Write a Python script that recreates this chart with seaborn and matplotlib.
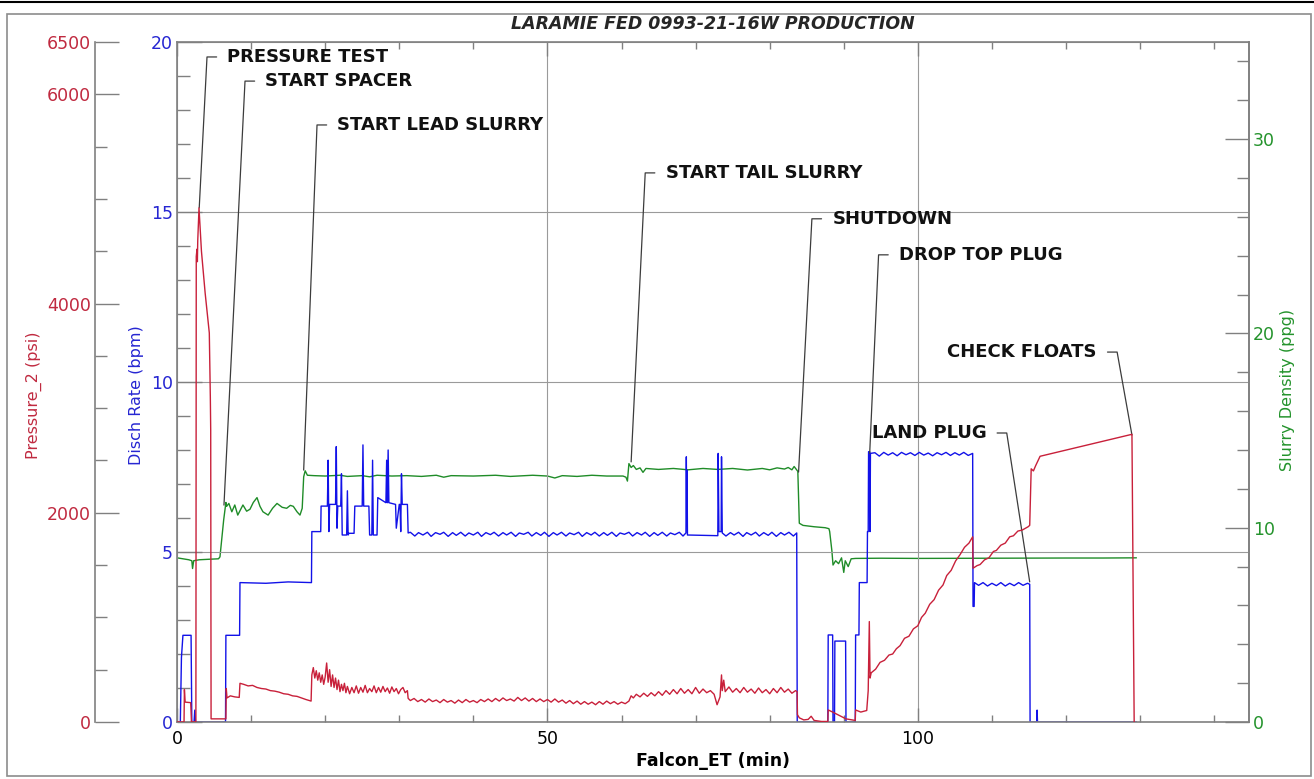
import numpy as np
import pandas as pd
import matplotlib
matplotlib.use("Agg")
import matplotlib.pyplot as plt
import seaborn as sns
from matplotlib.ticker import MultipleLocator, FixedLocator
from matplotlib.lines import Line2D
from matplotlib.patches import Rectangle

sns.set_style("white")
plt.rcParams['font.family'] = ['DejaVu Sans']

# ---------------- data ----------------
title = "LARAMIE FED 0993-21-16W PRODUCTION"

# Disch Rate (bpm) vs Falcon_ET (min)
rate_pts = [
    (0.0, 0), (0.45, 0), (0.6, 1.9), (0.8, 2.55), (1.9, 2.55), (2.0, 0), (2.3, 0), (2.4, 0.35), (2.5, 0),
    (6.55, 0), (6.6, 2.55), (8.45, 2.55), (8.5, 4.1), (12.0, 4.08), (15.0, 4.12), (18.15, 4.1),
    (18.2, 5.6), (19.4, 5.6), (19.45, 6.35), (20.3, 6.35), (20.4, 7.7), (20.5, 5.6), (20.6, 6.4),
    (21.4, 6.4), (21.5, 8.1), (21.6, 5.7), (21.7, 6.35), (22.1, 6.35), (22.2, 7.3), (22.3, 5.5),
    (22.9, 5.5), (23.0, 6.8), (23.1, 5.5), (23.2, 5.55), (23.9, 5.55), (24.0, 6.35), (25.0, 6.35),
    (25.1, 8.15), (25.2, 6.35), (25.9, 6.35), (26.0, 5.5), (26.3, 5.5), (26.4, 7.7), (26.5, 5.5),
    (27.0, 5.5), (27.1, 6.6), (28.2, 6.45), (28.3, 7.7), (28.4, 6.45), (28.5, 8.0), (28.6, 6.45),
    (29.5, 6.4), (29.6, 5.7), (30.0, 6.4), (30.1, 6.4), (30.2, 5.6), (30.3, 7.3), (30.4, 6.4),
    (31.1, 6.4), (31.2, 5.56),
    (31.5, 5.58), (32.1, 5.47), (32.6, 5.57), (33.2, 5.5), (33.8, 5.58), (34.3, 5.46), (34.9, 5.57),
    (35.5, 5.52), (36.0, 5.58), (36.6, 5.46), (37.2, 5.57), (37.7, 5.49), (38.3, 5.58), (38.9, 5.47),
    (39.4, 5.56), (40.0, 5.5), (40.6, 5.58), (41.1, 5.46), (41.7, 5.57), (42.3, 5.51), (42.8, 5.58),
    (43.4, 5.47), (44.0, 5.57), (44.5, 5.5), (45.1, 5.58), (45.7, 5.46), (46.2, 5.56), (46.8, 5.52),
    (47.4, 5.58), (47.9, 5.47), (48.5, 5.57), (49.1, 5.49), (49.6, 5.58), (50.2, 5.46), (50.8, 5.57),
    (51.3, 5.5), (51.9, 5.58), (52.5, 5.47), (53.0, 5.56), (53.6, 5.51), (54.2, 5.58), (54.7, 5.46),
    (55.3, 5.57), (55.9, 5.5), (56.4, 5.58), (57.0, 5.47), (57.6, 5.57), (58.1, 5.49), (58.7, 5.58),
    (59.3, 5.46), (59.8, 5.56), (60.4, 5.52), (61.0, 5.58), (61.5, 5.47), (62.1, 5.57), (62.7, 5.5),
    (63.2, 5.58), (63.8, 5.46), (64.4, 5.57), (64.9, 5.49), (65.5, 5.58), (66.1, 5.47), (66.6, 5.56),
    (67.2, 5.51), (67.8, 5.58), (68.3, 5.47), (68.7, 5.56),
    (68.75, 7.8), (68.8, 5.9), (68.85, 7.4), (68.9, 5.5), (73.0, 5.48), (73.05, 7.9), (73.15, 5.6),
    (73.45, 5.6), (73.5, 7.8), (73.6, 5.56),
    (74.1, 5.47), (74.7, 5.57), (75.2, 5.5), (75.8, 5.58), (76.4, 5.46), (76.9, 5.57), (77.5, 5.5),
    (78.1, 5.58), (78.6, 5.47), (79.2, 5.57), (79.8, 5.49), (80.3, 5.58), (80.9, 5.46), (81.5, 5.57),
    (82.0, 5.5), (82.6, 5.58), (83.2, 5.47), (83.65, 5.56), (83.72, 0.0),
    (87.85, 0), (87.9, 2.56), (88.5, 2.56), (88.55, 0), (88.75, 0), (88.8, 2.38), (90.25, 2.38),
    (90.3, 0), (91.55, 0), (91.6, 2.56), (92.05, 2.56), (92.1, 4.1), (93.15, 4.1), (93.2, 5.6),
    (93.3, 5.6), (93.35, 7.95), (93.5, 7.95), (93.55, 5.6), (93.6, 7.9),
    (94.2, 7.92), (94.8, 7.82), (95.4, 7.93), (96.0, 7.85), (96.6, 7.92), (97.2, 7.83), (97.8, 7.93),
    (98.4, 7.86), (99.0, 7.92), (99.6, 7.84), (100.2, 7.93), (100.8, 7.85), (101.4, 7.91),
    (102.0, 7.83), (102.6, 7.92), (103.2, 7.86), (103.8, 7.93), (104.4, 7.84), (105.0, 7.92),
    (105.6, 7.85), (106.2, 7.93), (106.8, 7.84), (107.4, 7.9),
    (107.45, 3.4), (107.6, 3.4), (107.65, 4.1), (108.2, 4.02), (108.8, 4.1), (109.4, 4.0),
    (110.0, 4.08), (110.6, 4.01), (111.2, 4.1), (111.8, 4.0), (112.4, 4.08), (113.0, 4.01),
    (113.6, 4.1), (114.2, 4.02), (114.8, 4.08), (115.1, 4.05), (115.15, 0), (116.05, 0),
    (116.1, 0.35), (116.15, 0), (129.5, 0),
]

# Pressure_2 (psi) vs Falcon_ET (min)
pres_pts = [
    (0.0, 0), (0.95, 0), (1.0, 310), (1.1, 190), (1.85, 185), (1.95, 0), (2.55, 0),
    (2.6, 4450), (2.7, 4520), (2.75, 4400), (2.8, 4600), (2.97, 4914), (3.3, 4500), (3.8, 4100),
    (4.36, 3719), (4.5, 3100), (4.55, 2790), (4.6, 30), (6.6, 30), (6.65, 320), (6.75, 230),
    (7.2, 250), (7.8, 240), (8.4, 235), (8.5, 370), (9.0, 360), (9.6, 345), (10.2, 350),
    (10.8, 330), (11.4, 320), (12.0, 315), (12.6, 300), (13.2, 295), (13.8, 285), (14.4, 270),
    (15.0, 265), (15.6, 250), (16.2, 245), (16.8, 230), (17.4, 215), (18.1, 200),
    (18.2, 450), (18.4, 520), (18.6, 420), (18.8, 490), (19.0, 400), (19.2, 470), (19.4, 380),
    (19.6, 450), (19.8, 360), (20.0, 430), (20.2, 564), (20.4, 380), (20.6, 500), (20.8, 340),
    (21.0, 450), (21.2, 330), (21.4, 420), (21.6, 310), (21.8, 400), (22.0, 290), (22.2, 360),
    (22.4, 300), (22.6, 370), (22.8, 280), (23.0, 340), (23.3, 270), (23.6, 330), (23.9, 280),
    (24.2, 345), (24.5, 275), (24.8, 330), (25.1, 285), (25.4, 350), (25.7, 280), (26.0, 320),
    (26.3, 290), (26.6, 345), (26.9, 280), (27.2, 330), (27.5, 285), (27.8, 340), (28.1, 290),
    (28.4, 325), (28.7, 275), (29.0, 335), (29.3, 290), (29.6, 320), (29.9, 270), (30.2, 310),
    (30.5, 330), (30.8, 280), (31.1, 300), (31.2, 226),
    (31.5, 205), (32.0, 225), (32.5, 195), (33.0, 215), (33.5, 190), (34.0, 220), (34.5, 195),
    (35.0, 210), (35.5, 185), (36.0, 215), (36.5, 190), (37.0, 205), (37.5, 180), (38.0, 210),
    (38.5, 185), (39.0, 215), (39.5, 190), (40.0, 205), (40.5, 185), (41.0, 215), (41.5, 195),
    (42.0, 220), (42.5, 195), (43.0, 225), (43.5, 200), (44.0, 230), (44.5, 205), (45.0, 220),
    (45.5, 200), (46.0, 235), (46.5, 205), (47.0, 230), (47.5, 200), (48.0, 225), (48.5, 195),
    (49.0, 220), (49.5, 195), (50.0, 215), (50.5, 190), (51.0, 220), (51.5, 190), (52.0, 210),
    (52.5, 180), (53.0, 205), (53.5, 175), (54.0, 200), (54.5, 170), (55.0, 195), (55.5, 170),
    (56.0, 190), (56.5, 165), (57.0, 195), (57.5, 170), (58.0, 200), (58.5, 175), (59.0, 195),
    (59.5, 170), (60.0, 190), (60.5, 175), (61.0, 200), (61.3, 250), (61.6, 230), (62.0, 265),
    (62.5, 240), (63.0, 275), (63.5, 245), (64.0, 280), (64.5, 250), (65.0, 290), (65.5, 255),
    (66.0, 300), (66.5, 265), (67.0, 310), (67.5, 270), (68.0, 320), (68.5, 275), (69.0, 310),
    (69.5, 270), (70.0, 330), (70.5, 275), (71.0, 315), (71.5, 280), (72.0, 300), (72.5, 265),
    (72.9, 165), (73.3, 240), (73.5, 450), (73.6, 300), (73.8, 400), (74.0, 290), (74.5, 335),
    (75.0, 285), (75.5, 320), (76.0, 280), (76.5, 330), (77.0, 285), (77.5, 315), (78.0, 275),
    (78.5, 325), (79.0, 280), (79.5, 310), (80.0, 270), (80.5, 320), (81.0, 280), (81.5, 330),
    (82.0, 285), (82.5, 315), (83.0, 275), (83.5, 300), (83.7, 290), (83.75, 70),
    (84.0, 40), (84.6, 20), (85.2, 25), (85.6, 55), (86.0, 15), (87.0, 5), (87.85, 5),
    (87.9, 115), (88.5, 95), (89.2, 70), (90.3, 30), (91.55, 15), (91.6, 115), (92.3, 95),
    (93.1, 110), (93.3, 300), (93.45, 960), (93.55, 420), (93.7, 470), (94.3, 505), (94.9, 570),
    (95.5, 590), (96.1, 640), (96.6, 650), (97.1, 700), (97.6, 730), (98.2, 800), (98.8, 820),
    (99.4, 890), (100.0, 920), (100.5, 1000), (101.0, 1040), (101.6, 1125), (102.2, 1170),
    (102.8, 1260), (103.4, 1310), (103.9, 1400), (104.5, 1450), (105.1, 1540), (105.7, 1600),
    (106.3, 1670), (106.9, 1710), (107.4, 1770), (107.45, 1470), (108.0, 1495), (108.4, 1505),
    (109.0, 1550), (109.6, 1570), (110.2, 1630), (110.6, 1640), (111.2, 1690), (111.8, 1710),
    (112.4, 1770), (112.9, 1780), (113.5, 1825), (114.1, 1835), (114.9, 1867), (115.1, 1880),
    (115.3, 2420), (115.6, 2400), (115.9, 2450), (116.3, 2510), (116.5, 2540), (128.9, 2750),
    (129.2, 0),
]

# Slurry Density (ppg) vs Falcon_ET (min)
dens_pts = [
    (0.0, 8.45), (0.8, 8.4), (1.6, 8.35), (2.0, 8.3), (2.1, 7.9), (2.25, 8.3), (3.0, 8.35),
    (4.5, 8.38), (5.6, 8.4), (5.8, 8.5), (6.3, 10.4), (6.6, 11.3), (6.7, 11.1), (7.0, 11.25),
    (7.4, 10.82), (7.8, 11.17), (8.2, 10.65), (8.9, 11.17), (9.4, 10.85), (9.85, 10.95),
    (10.3, 11.3), (10.8, 11.55), (11.2, 11.1), (11.6, 10.82), (12.3, 10.65), (12.9, 11.0),
    (13.5, 11.25), (14.2, 11.05), (14.8, 11.0), (15.3, 11.15), (15.7, 11.1), (16.2, 10.82),
    (16.6, 10.65), (16.9, 11.0), (17.1, 12.62), (17.3, 12.93), (17.6, 12.7), (18.5, 12.68),
    (20.0, 12.66), (22.0, 12.7), (23.0, 12.64), (25.0, 12.68), (26.0, 12.62), (27.0, 12.7),
    (29.0, 12.66), (31.0, 12.68), (33.0, 12.64), (35.0, 12.7), (36.0, 12.6), (37.0, 12.68),
    (40.0, 12.66), (43.0, 12.7), (45.0, 12.64), (48.0, 12.7), (50.0, 12.66), (51.0, 12.56),
    (52.0, 12.68), (54.0, 12.64), (56.0, 12.7), (58.0, 12.66), (60.2, 12.66), (60.6, 12.6),
    (60.8, 12.4), (61.0, 13.3), (61.3, 13.1), (61.6, 13.2), (62.0, 13.0), (62.5, 13.08),
    (62.9, 12.85), (63.3, 13.05), (65.0, 13.0), (67.0, 13.05), (69.0, 12.98), (71.0, 13.05),
    (73.0, 13.0), (75.0, 13.05), (77.0, 12.97), (79.0, 13.05), (80.0, 12.98), (81.0, 13.08),
    (82.0, 13.02), (82.5, 13.1), (83.0, 12.98), (83.3, 13.15), (83.6, 13.0), (83.8, 12.9),
    (84.0, 10.23), (84.5, 10.12), (86.0, 10.05), (87.5, 10.0), (88.0, 9.95), (88.1, 9.8),
    (88.4, 8.8), (88.55, 8.08), (88.9, 8.3), (89.3, 8.15), (89.7, 8.45), (90.0, 7.7),
    (90.2, 8.3), (90.6, 8.0), (91.0, 8.4), (91.6, 8.42), (95.0, 8.43), (100.0, 8.42),
    (110.0, 8.43), (120.0, 8.44), (125.0, 8.44), (129.5, 8.45),
]

# events: label, time (min), level on the rate scale where the leader ends
event_labels = ["PRESSURE TEST", "START SPACER", "START LEAD SLURRY", "START TAIL SLURRY",
                "SHUTDOWN", "DROP TOP PLUG", "LAND PLUG", "CHECK FLOATS"]
event_t = [3.0, 6.34, 17.1, 61.3, 83.9, 93.5, 115.1, 128.9]
event_y = [15.12, 6.38, 7.41, 7.65, 7.35, 7.9, 4.12, 8.44]

# ---------------- layout / styles ----------------
RED, BLUE, GREEN = '#c8203a', '#1212e8', '#1f8c28'
RED_T, BLUE_T, GREEN_T = '#c02a40', '#2626d2', '#24932c'
SPINE = '#808080'
# label anchor (time, rate-level), side of text
label_layout = [(4.05, 19.56, 'r'), (9.18, 18.85, 'r'), (18.9, 17.56, 'r'), (63.2, 16.15, 'r'),
                (85.7, 14.8, 'r'), (94.7, 13.74, 'r'), (112.0, 8.5, 'l'), (126.9, 10.88, 'l')]
SEG = 1.3   # horizontal leader length (min)
GAP = 1.45  # gap to text (min)

W, H = 1314, 779
fig = plt.figure(figsize=(W / 100, H / 100), dpi=100)
fig.subplots_adjust(left=177 / W, right=1249 / W, bottom=57 / H, top=737 / H)
ax = fig.add_subplot(111)
ax_d = ax.twinx()
ax_p = ax.twinx()
ax_d.set_zorder(1)
ax.set_zorder(2)
ax_p.set_zorder(3)
ax.patch.set_visible(False)
ax_d.patch.set_visible(False)
ax_p.patch.set_visible(False)

rate_df = pd.DataFrame(rate_pts, columns=['t', 'v'])
pres_df = pd.DataFrame(pres_pts, columns=['t', 'v'])
dens_df = pd.DataFrame(dens_pts, columns=['t', 'v'])

sns.lineplot(data=dens_df, x='t', y='v', ax=ax_d, color=GREEN, lw=1.0, sort=False, estimator=None, legend=False)
sns.lineplot(data=rate_df, x='t', y='v', ax=ax, color=BLUE, lw=1.0, sort=False, estimator=None, legend=False)
sns.lineplot(data=pres_df, x='t', y='v', ax=ax_p, color=RED, lw=1.0, sort=False, estimator=None, legend=False)

ax.set_xlim(0, 144.7)
ax.set_ylim(0, 20)
ax_p.set_ylim(0, 6500)
ax_d.set_ylim(0, 35)

# x axis
ax.xaxis.set_major_locator(FixedLocator([0, 50, 100]))
ax.xaxis.set_minor_locator(MultipleLocator(10))
ax.tick_params(axis='x', which='both', direction='in', top=True, bottom=True, color=SPINE,
               labelsize=12.5, pad=6, labelcolor='black', width=1)
ax.tick_params(axis='x', which='major', length=10)
ax.tick_params(axis='x', which='minor', length=5)

# rate axis
ax.yaxis.set_major_locator(MultipleLocator(5))
ax.yaxis.set_minor_locator(MultipleLocator(1))
ax.tick_params(axis='y', which='both', direction='in', left=True, right=False, color=SPINE,
               labelsize=12.5, pad=3, labelcolor=BLUE_T, width=1)
ax.tick_params(axis='y', which='major', length=18)
ax.tick_params(axis='y', which='minor', length=9)

# pressure axis
ax_p.yaxis.set_ticks_position('left')
ax_p.yaxis.set_label_position('left')
ax_p.spines['left'].set_position(('axes', -82 / 1072))
for s in ['right', 'top', 'bottom']:
    ax_p.spines[s].set_visible(False)
ax_p.yaxis.set_major_locator(FixedLocator([0, 2000, 4000, 6000, 6500]))
ax_p.yaxis.set_minor_locator(MultipleLocator(500))
ax_p.tick_params(axis='y', which='both', direction='in', color=SPINE, labelsize=12.5, pad=3,
                 labelcolor=RED_T, width=1)
ax_p.tick_params(axis='y', which='major', length=17)
ax_p.tick_params(axis='y', which='minor', length=8.5)

# density axis
for s in ['left', 'top', 'bottom']:
    ax_d.spines[s].set_visible(False)
ax_d.yaxis.set_major_locator(MultipleLocator(10))
ax_d.yaxis.set_minor_locator(MultipleLocator(2))
ax_d.tick_params(axis='y', which='both', direction='in', color=SPINE, labelsize=12.5, pad=3,
                 labelcolor=GREEN_T, width=1)
ax_d.tick_params(axis='y', which='major', length=17)
ax_d.tick_params(axis='y', which='minor', length=8.5)

for a in (ax, ax_p, ax_d):
    for s in a.spines.values():
        s.set_color(SPINE)
        s.set_linewidth(1.2)

ax.grid(True, which='major', color='#9a9a9a', lw=0.8)

# labels
ax.set_xlabel("Falcon_ET (min)", fontsize=12.5, fontweight='bold', color='black')
ax.xaxis.set_label_coords(0.5, -0.044)
ax.set_ylabel("Disch Rate (bpm)", fontsize=11.5, color=BLUE_T)
ax.yaxis.set_label_coords(-0.031, 0.481)
ax_p.set_ylabel("Pressure_2 (psi)", fontsize=11.5, color=RED_T)
ax_p.yaxis.set_label_coords(-0.126, 0.481)
ax_d.set_ylabel("Slurry Density (ppg)", fontsize=11.5, color=GREEN_T)
ax_d.yaxis.set_label_coords(1.0289, 0.488)

fig.text(713 / W, 1 - 24 / H, title, fontsize=12.5, fontweight='bold', fontstyle='italic',
         ha='center', va='center')

# event annotations
for lab, et, ey, (lx, ly, side) in zip(event_labels, event_t, event_y, label_layout):
    if side == 'r':
        seg_end = lx + SEG
        tx, ha = seg_end + GAP, 'left'
    else:
        seg_end = lx - SEG
        tx, ha = seg_end - GAP, 'right'
    ax.plot([et, lx, seg_end], [ey, ly, ly], color='#3c3c3c', lw=0.9, zorder=5)
    ax.text(tx, ly, lab, fontsize=13, fontweight='bold', ha=ha, va='center', color='#111111', zorder=6)

# figure frame
fig.add_artist(Rectangle((7 / W, 1 - 776 / H), (1311 - 7) / W, (776 - 14) / H,
                         transform=fig.transFigure, fill=False, edgecolor='#8c8c8c', lw=1.2))
fig.add_artist(Line2D([0, 1], [1 - 1.5 / H, 1 - 1.5 / H], transform=fig.transFigure,
                      color='black', lw=1.5))

fig.savefig("out.png", dpi=100, facecolor='white')
